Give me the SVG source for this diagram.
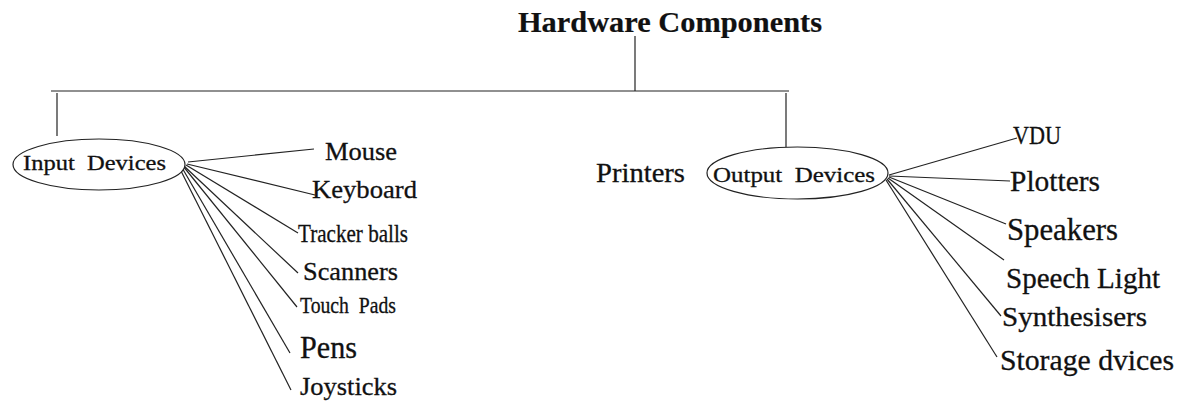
<svg xmlns="http://www.w3.org/2000/svg" width="1181" height="404" viewBox="0 0 1181 404" font-family="'Liberation Serif', 'DejaVu Serif', serif">
  <style>
    .ln { stroke: #222; stroke-width: 1.2; fill: none; }
    .el { stroke: #222; stroke-width: 1.2; fill: #fff; }
    text { font-family: 'Liberation Serif', 'DejaVu Serif', serif; fill: #111; stroke: #111; stroke-width: 0.3; }
    .title { font-weight: bold; font-size: 29px; stroke-width: 0.2; }
  </style>
  <rect width="1181" height="404" fill="#fff"/>

  <!-- tree connectors -->
  <g id="connectors">
    <line class="ln" x1="635" y1="36" x2="635" y2="91"/>
    <line class="ln" x1="51" y1="91" x2="789" y2="91"/>
    <line class="ln" x1="57" y1="93" x2="57" y2="136"/>
    <line class="ln" x1="786" y1="93" x2="786" y2="147"/>
    <!-- input fan -->
    <line class="ln" x1="188" y1="162" x2="314" y2="149"/>
    <line class="ln" x1="187" y1="164" x2="315" y2="195"/>
    <line class="ln" x1="186" y1="165" x2="298" y2="233"/>
    <line class="ln" x1="184" y1="166" x2="298" y2="273"/>
    <line class="ln" x1="183" y1="166" x2="297" y2="307"/>
    <line class="ln" x1="181" y1="166" x2="290" y2="353"/>
    <line class="ln" x1="179" y1="167" x2="291" y2="390"/>
    <!-- output fan -->
    <line class="ln" x1="889" y1="175" x2="1017" y2="138"/>
    <line class="ln" x1="889" y1="176" x2="1010" y2="181"/>
    <line class="ln" x1="889" y1="177" x2="1006" y2="224"/>
    <line class="ln" x1="888" y1="178" x2="1004" y2="260"/>
    <line class="ln" x1="887" y1="179" x2="1001" y2="316"/>
    <line class="ln" x1="886" y1="180" x2="997" y2="357"/>
  </g>

  <g id="root">
    <text class="title" x="518" y="32" textLength="304" lengthAdjust="spacingAndGlyphs">Hardware Components</text>
  </g>

  <g id="input-devices">
    <ellipse class="el" cx="99" cy="164.5" rx="86" ry="25.5"/>
    <text x="23" y="170" font-size="22" textLength="143" lengthAdjust="spacingAndGlyphs" xml:space="preserve">Input  Devices</text>
  </g>
  <g id="output-devices">
    <ellipse class="el" cx="797.5" cy="173" rx="90.5" ry="26"/>
    <text x="713" y="182" font-size="22" textLength="162" lengthAdjust="spacingAndGlyphs" xml:space="preserve">Output  Devices</text>
  </g>
  <g id="printers">
    <text x="596" y="182" font-size="27" textLength="89" lengthAdjust="spacingAndGlyphs">Printers</text>
  </g>

  <g id="mouse"><text x="325" y="160" font-size="26" textLength="72" lengthAdjust="spacingAndGlyphs">Mouse</text></g>
  <g id="keyboard"><text x="312" y="198" font-size="26" textLength="105" lengthAdjust="spacingAndGlyphs">Keyboard</text></g>
  <g id="tracker-balls"><text x="298" y="242" font-size="25" textLength="110" lengthAdjust="spacingAndGlyphs">Tracker balls</text></g>
  <g id="scanners"><text x="303" y="280" font-size="26" textLength="95" lengthAdjust="spacingAndGlyphs">Scanners</text></g>
  <g id="touch-pads"><text x="300" y="313" font-size="24" textLength="96" lengthAdjust="spacingAndGlyphs" xml:space="preserve">Touch  Pads</text></g>
  <g id="pens"><text x="300" y="358" font-size="32" textLength="57" lengthAdjust="spacingAndGlyphs">Pens</text></g>
  <g id="joysticks"><text x="300" y="395" font-size="26" textLength="97" lengthAdjust="spacingAndGlyphs">Joysticks</text></g>

  <g id="vdu"><text x="1013" y="144" font-size="25" textLength="48" lengthAdjust="spacingAndGlyphs">VDU</text></g>
  <g id="plotters"><text x="1010" y="191" font-size="30" textLength="90" lengthAdjust="spacingAndGlyphs">Plotters</text></g>
  <g id="speakers"><text x="1007" y="240" font-size="31" textLength="111" lengthAdjust="spacingAndGlyphs">Speakers</text></g>
  <g id="speech-light"><text x="1006" y="288" font-size="30" textLength="154" lengthAdjust="spacingAndGlyphs">Speech Light</text></g>
  <g id="synthesisers"><text x="1002" y="326" font-size="27" textLength="145" lengthAdjust="spacingAndGlyphs">Synthesisers</text></g>
  <g id="storage-devices"><text x="1000" y="370" font-size="30" textLength="174" lengthAdjust="spacingAndGlyphs">Storage dvices</text></g>
</svg>
